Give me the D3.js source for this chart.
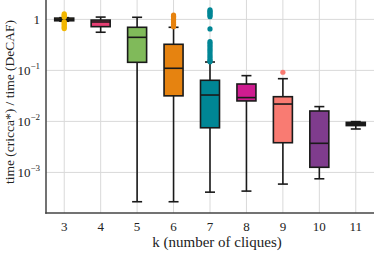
<!DOCTYPE html>
<html>
<head>
<meta charset="utf-8">
<script src="https://cdn.jsdelivr.net/npm/d3@7"></script>
<style>
  body { margin: 0; background: #fff; }
  svg { display: block; }
  text { font-family: "Liberation Serif", "Times New Roman", Times, "DejaVu Serif", serif; }
</style>
</head>
<body>
<script>
// k values and box colours
const ks = [3, 4, 5, 6, 7, 8, 9, 10, 11];
const colors = ["#F2B701", "#E73F74", "#80BA5A", "#E68310", "#008695", "#CF1C90", "#F97B72", "#7F3C8D", "#1a1a1a"];

// box stats (ratio of times)
const whiskLo = [0.92, 0.56, 2.66e-4, 2.66e-4, 4.1e-4, 4.3e-4, 5.9e-4, 7.5e-4, 0.0071];
const q1s     = [0.94, 0.72, 0.144, 0.0317, 0.0075, 0.0252, 0.00382, 0.00126, 0.00828];
const medians = [1.0, 0.89, 0.445, 0.110, 0.0329, 0.0293, 0.0219, 0.00372, 0.0089];
const q3s     = [1.06, 0.97, 0.70, 0.325, 0.064, 0.0541, 0.0305, 0.0160, 0.00958];
const whiskHi = [1.08, 1.11, 1.10, 0.70, 0.146, 0.0789, 0.0688, 0.0195, 0.0099];

// fliers
const outliers = {
  3: [1.28, 1.22, 1.17, 1.12, 0.90, 0.85, 0.80, 0.75, 0.70, 0.66],
  6: [1.22, 1.15, 1.08, 1.0, 0.93, 0.86, 0.79, 0.72],
  7: [1.53, 1.45, 1.37, 1.29, 1.21, 1.13, 0.65, 0.366, 0.34, 0.31, 0.285, 0.26, 0.24, 0.22, 0.2, 0.185, 0.17, 0.158, 0.148],
  9: [0.092]
};

const yTicks = [1e-3, 1e-2, 1e-1, 1];

const W = 374, H = 254;
const m = { left: 46, right: 0, top: 0, bottom: 41 };

const svg = d3.select("body").append("svg")
  .attr("width", W).attr("height", H);

const x = d3.scaleBand()
  .domain(ks)
  .range([m.left, W - m.right])
  .padding(0);

const y = d3.scaleLog()
  .domain([1.6e-4, 2.4])
  .range([H - m.bottom, m.top]);

const cx = k => x(k) + x.bandwidth() / 2;
const boxW = 19, capW = 10;

// grid
svg.append("g").selectAll("line").data(ks).join("line")
  .attr("x1", cx).attr("x2", cx)
  .attr("y1", m.top).attr("y2", H - m.bottom)
  .attr("stroke", "#d9d9d9").attr("stroke-width", 1);

svg.append("g").selectAll("line").data(yTicks).join("line")
  .attr("x1", m.left).attr("x2", W - m.right)
  .attr("y1", d => y(d)).attr("y2", d => y(d))
  .attr("stroke", "#d9d9d9").attr("stroke-width", 1);

// boxes
const boxes = ks.map((k, i) => ({
  k, c: colors[i], lo: whiskLo[i], q1: q1s[i], med: medians[i], q3: q3s[i], hi: whiskHi[i]
}));

const g = svg.append("g");
boxes.forEach(b => {
  const c = cx(b.k);
  const bg = g.append("g");
  // whiskers
  bg.append("line").attr("x1", c).attr("x2", c)
    .attr("y1", y(b.q3)).attr("y2", y(b.hi))
    .attr("stroke", "#1a1a1a").attr("stroke-width", 1.6);
  bg.append("line").attr("x1", c).attr("x2", c)
    .attr("y1", y(b.q1)).attr("y2", y(b.lo))
    .attr("stroke", "#1a1a1a").attr("stroke-width", 1.6);
  [b.lo, b.hi].forEach(v => {
    bg.append("line").attr("x1", c - capW / 2).attr("x2", c + capW / 2)
      .attr("y1", y(v)).attr("y2", y(v))
      .attr("stroke", "#1a1a1a").attr("stroke-width", 1.6);
  });
  bg.append("rect")
    .attr("x", c - boxW / 2).attr("width", boxW)
    .attr("y", y(b.q3)).attr("height", y(b.q1) - y(b.q3))
    .attr("fill", b.c).attr("stroke", "#1a1a1a").attr("stroke-width", 1.6);
  bg.append("line").attr("x1", c - boxW / 2).attr("x2", c + boxW / 2)
    .attr("y1", y(b.med)).attr("y2", y(b.med))
    .attr("stroke", "#1a1a1a").attr("stroke-width", 1.6);
});

// fliers
Object.keys(outliers).forEach(k => {
  const col = colors[ks.indexOf(+k)];
  g.append("g").selectAll("circle").data(outliers[k]).join("circle")
    .attr("cx", cx(+k)).attr("cy", d => y(d)).attr("r", 2.6)
    .attr("fill", col);
});

// spines
svg.append("line").attr("x1", m.left).attr("x2", m.left)
  .attr("y1", m.top).attr("y2", H - m.bottom + 0.75)
  .attr("stroke", "#444").attr("stroke-width", 1.5);
svg.append("line").attr("x1", m.left - 0.75).attr("x2", W - m.right)
  .attr("y1", H - m.bottom).attr("y2", H - m.bottom)
  .attr("stroke", "#444").attr("stroke-width", 1.5);

// tick labels
svg.append("g").selectAll("text").data(ks).join("text")
  .attr("x", cx).attr("y", H - m.bottom + 18)
  .attr("text-anchor", "middle").attr("font-size", 13).attr("fill", "#222")
  .text(d => d);

const yl = svg.append("g").selectAll("text").data(yTicks).join("text")
  .attr("x", m.left - 6).attr("y", d => y(d) + 4.5)
  .attr("text-anchor", "end").attr("font-size", 13).attr("fill", "#222");
yl.each(function(d) {
  const t = d3.select(this);
  const e = Math.round(Math.log10(d));
  if (e === 0) { t.text("1"); return; }
  t.append("tspan").text("10");
  t.append("tspan").attr("dy", -5.5).attr("font-size", 9).text("\u2212" + Math.abs(e));
});

// axis titles
svg.append("text")
  .attr("x", 217).attr("y", H - 7)
  .attr("text-anchor", "middle").attr("font-size", 15).attr("fill", "#222")
  .text("k (number of cliques)");

svg.append("text")
  .attr("transform", "translate(14,102) rotate(-90)")
  .attr("text-anchor", "middle").attr("font-size", 13.5).attr("fill", "#222")
  .text("time (cricca*) / time (DeCAF)");
</script>
</body>
</html>
